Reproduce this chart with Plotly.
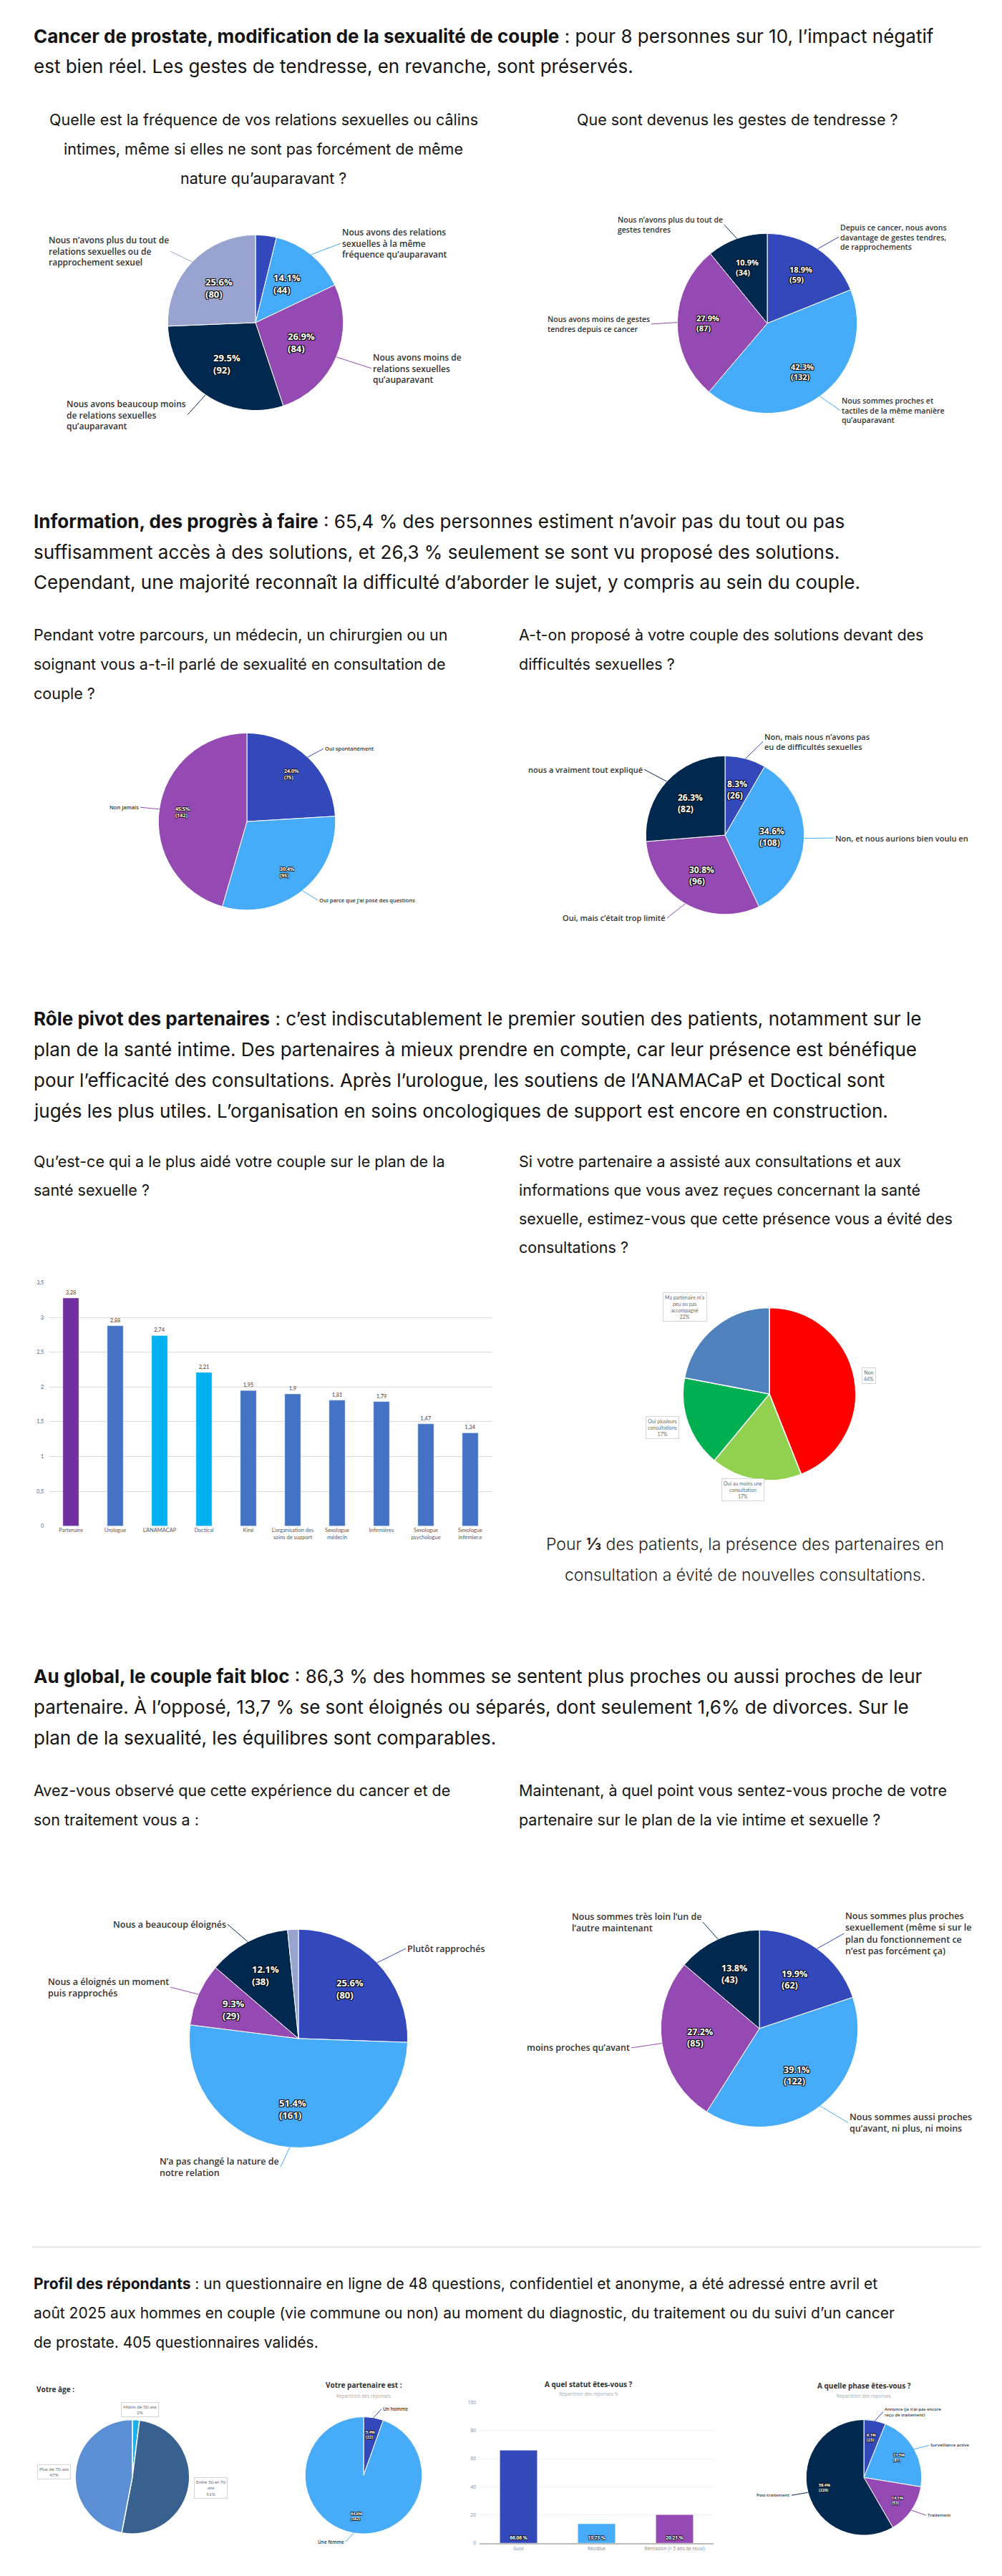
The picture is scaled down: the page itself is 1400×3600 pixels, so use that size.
import math
import plotly.graph_objects as go

# ====================== DATA ======================
# --- Section 1
head1 = ["<b>Cancer de prostate, modification de la sexualité de couple</b> : pour 8 personnes sur 10, l’impact négatif",
         "est bien réel. Les gestes de tendresse, en revanche, sont préservés."]
q1 = ["Quelle est la fréquence de vos relations sexuelles ou câlins",
      "intimes, même si elles ne sont pas forcément de même",
      "nature qu’auparavant ?"]
q2 = ["Que sont devenus les gestes de tendresse ?"]
freq_values = [12, 44, 84, 92, 80]
freq_labels = ["",
               "Nous avons des relations<br>sexuelles à la même<br>fréquence qu’auparavant",
               "Nous avons moins de<br>relations sexuelles<br>qu’auparavant",
               "Nous avons beaucoup moins<br>de relations sexuelles<br>qu’auparavant",
               "Nous n’avons plus du tout de<br>relations sexuelles ou de<br>rapprochement sexuel"]
tend_values = [59, 132, 87, 34]
tend_labels = ["Depuis ce cancer, nous avons<br>davantage de gestes tendres,<br>de rapprochements",
               "Nous sommes proches et<br>tactiles de la même manière<br>qu’auparavant",
               "Nous avons moins de gestes<br>tendres depuis ce cancer",
               "Nous n’avons plus du tout de<br>gestes tendres"]

# --- Section 2
head2 = ["<b>Information, des progrès à faire</b> : 65,4 % des personnes estiment n’avoir pas du tout ou pas",
         "suffisamment accès à des solutions, et 26,3 % seulement se sont vu proposé des solutions.",
         "Cependant, une majorité reconnaît la difficulté d’aborder le sujet, y compris au sein du couple."]
q3 = ["Pendant votre parcours, un médecin, un chirurgien ou un",
      "soignant vous a-t-il parlé de sexualité en consultation de",
      "couple ?"]
q4 = ["A-t-on proposé à votre couple des solutions devant des",
      "difficultés sexuelles ?"]
talk_values = [75, 95, 142]
talk_labels = ["Oui spontanément", "Oui parce que j’ai posé des questions", "Non jamais"]
sol_values = [26, 108, 96, 82]
sol_labels = ["Non, mais nous n’avons pas<br>eu de difficultés sexuelles",
              "Non, et nous aurions bien voulu en",
              "Oui, mais c’était trop limité",
              "nous a vraiment tout expliqué"]

# --- Section 3
head3 = ["<b>Rôle pivot des partenaires</b> : c’est indiscutablement le premier soutien des patients, notamment sur le",
         "plan de la santé intime. Des partenaires à mieux prendre en compte, car leur présence est bénéfique",
         "pour l’efficacité des consultations. Après l’urologue, les soutiens de l’ANAMACaP et Doctical sont",
         "jugés les plus utiles. L’organisation en soins oncologiques de support est encore en construction."]
q5 = ["Qu’est-ce qui a le plus aidé votre couple sur le plan de la", "santé sexuelle ?"]
q6 = ["Si votre partenaire a assisté aux consultations et aux",
      "informations que vous avez reçues concernant la santé",
      "sexuelle, estimez-vous que cette présence vous a évité des",
      "consultations ?"]
help_categories = ["Partenaire", "Urologue", "L’ANAMACAP", "Doctical", "Kiné",
                   "L’organisation des<br>soins de support", "Sexologue<br>médecin", "Infirmières",
                   "Sexologue<br>psychologue", "Sexologue<br>infirmier.e"]
help_values = [3.28, 2.88, 2.74, 2.21, 1.95, 1.9, 1.81, 1.79, 1.47, 1.34]
help_colors = ["#7030A0", "#4472C4", "#00B0F0", "#00B0F0", "#4472C4",
               "#4472C4", "#4472C4", "#4472C4", "#4472C4", "#4472C4"]
help_tickvals = [0, 0.5, 1, 1.5, 2, 2.5, 3, 3.5]
help_ticktext = ["0", "0,5", "1", "1,5", "2", "2,5", "3", "3,5"]
avoid_labels = ["Non", "Oui au moins une<br>consultation", "Oui plusieurs<br>consultations",
                "Ma partenaire m’a<br>peu ou pas<br>accompagné"]
avoid_values = [44, 17, 17, 22]
caption3 = ["Pour <b>⅓</b> des patients, la présence des partenaires en",
            "consultation a évité de nouvelles consultations."]

# --- Section 4
head4 = ["<b>Au global, le couple fait bloc</b> : 86,3 % des hommes se sentent plus proches ou aussi proches de leur",
         "partenaire. À l’opposé, 13,7 % se sont éloignés ou séparés, dont seulement 1,6% de divorces. Sur le",
         "plan de la sexualité, les équilibres sont comparables."]
q7 = ["Avez-vous observé que cette expérience du cancer et de", "son traitement vous a :"]
q8 = ["Maintenant, à quel point vous sentez-vous proche de votre",
      "partenaire sur le plan de la vie intime et sexuelle ?"]
exp_values = [80, 161, 29, 38, 5]
exp_labels = ["Plutôt rapprochés", "N’a pas changé la nature de<br>notre relation",
              "Nous a éloignés un moment<br>puis rapprochés", "Nous a beaucoup éloignés", ""]
close_values = [62, 122, 85, 43]
close_labels = ["Nous sommes plus proches<br>sexuellement (même si sur le<br>plan du fonctionnement ce<br>n’est pas forcément ça)",
                "Nous sommes aussi proches<br>qu’avant, ni plus, ni moins",
                "moins proches qu’avant",
                "Nous sommes très loin l’un de<br>l’autre maintenant"]

# --- Section 5
head5 = ["<b>Profil des répondants</b> : un questionnaire en ligne de 48 questions, confidentiel et anonyme, a été adressé entre avril et",
         "août 2025 aux hommes en couple (vie commune ou non) au moment du diagnostic, du traitement ou du suivi d’un cancer",
         "de prostate. 405 questionnaires validés."]
age_labels = ["Moins de 50 ans", "Entre 50 et 70<br>ans", "Plus de 70 ans"]
age_values = [2, 51, 47]
partner_labels = ["Un homme", "Une femme"]
partner_values = [22, 382]
status_categories = ["Suivi", "Récidive", "Rémission (> 5 ans de recul)"]
status_values = [66.06, 13.73, 20.21]
phase_labels = ["Annonce (je n’ai pas encore<br>reçu de traitement)", "Surveillance active",
                "Traitement", "Post-traitement"]
phase_values = [23, 81, 53, 220]

# ====================== STYLE / LAYOUT ======================
W, H, OFF = 1384, 3584, 8
def X(px): return (px - OFF) / W
def Y(py): return 1 - (py - OFF) / H

MAIN = "Inter, Noto Sans, sans-serif"
LAB = "Open Sans, Noto Sans, sans-serif"
XL = "Lato, Liberation Sans, sans-serif"
HALO = "-1px -1px 0 #111, 1px -1px 0 #111, -1px 1px 0 #111, 1px 1px 0 #111, 0 0 2px #111"
HALO_S = "-0.6px -0.6px 0 #111, 0.6px -0.6px 0 #111, -0.6px 0.6px 0 #111, 0.6px 0.6px 0 #111"
HEAD, QS = 26, 21.5

ROYAL, LIGHT, PURPLE, NAVY, LAV = "#3348BA", "#46ABF8", "#9449B3", "#01284E", "#98A3CF"

fig = go.Figure()
ann = []
shapes = []

def text_lines(lines, x, y0, dy, size, anchor="left", color="#141414", family=MAIN, weight=None):
    for i, t in enumerate(lines):
        f = dict(family=family, size=size, color=color)
        if weight:
            f["weight"] = weight
        ann.append(dict(text=t, x=X(x), y=Y(y0 + i * dy), xref="paper", yref="paper",
                        xanchor=anchor, yanchor="middle", showarrow=False, font=f,
                        align="center" if anchor == "center" else anchor))

def mids(values):
    tot, cum, out = sum(values), 0, []
    for v in values:
        out.append((cum + v / 2) / tot * 2 * math.pi)
        cum += v
    return out

def add_pie(values, colors, cx, cy, r, lw=1):
    fig.add_trace(go.Pie(values=values, labels=[str(i) for i in range(len(values))],
                         sort=False, direction="clockwise", rotation=0,
                         marker=dict(colors=colors, line=dict(color="white", width=lw)),
                         textinfo="none", hoverinfo="skip", showlegend=False,
                         domain=dict(x=[X(cx - r), X(cx + r)], y=[Y(cy + r), Y(cy - r)])))

def inside(values, cx, cy, r, frac, size, show=None, halo=HALO):
    tot = sum(values)
    for i, (v, a) in enumerate(zip(values, mids(values))):
        if show is not None and not show[i]:
            continue
        px, py = cx + frac * r * math.sin(a), cy - frac * r * math.cos(a)
        ann.append(dict(text=f"{v / tot * 100:.1f}%<br>({v})", x=X(px), y=Y(py), xref="paper", yref="paper",
                        showarrow=False, xanchor="center", yanchor="middle", align="left",
                        font=dict(family=LAB, size=size, color="white", weight=700, shadow=halo)))

def outside(values, colors, cx, cy, r, labels, pos, size, color="#333333"):
    for v, a, col, lab, p in zip(values, mids(values), colors, labels, pos):
        if not lab or p is None:
            continue
        anchor, lx, ly = p
        ex, ey = cx + r * math.sin(a), cy - r * math.cos(a)
        ann.append(dict(text=lab, x=X(ex), y=Y(ey), xref="paper", yref="paper",
                        showarrow=True, arrowhead=0, arrowwidth=1, arrowcolor=col, standoff=0,
                        ax=lx - ex, ay=ly - ey, axref="pixel", ayref="pixel",
                        xanchor=anchor, yanchor="middle", align="left",
                        font=dict(family=LAB, size=size, color=color, weight=600)))

def boxes(values, labels, pos, size):
    for v, lab, (bx, by) in zip(values, labels, pos):
        ann.append(dict(text=f"{lab}<br>{v}%", x=X(bx), y=Y(by), xref="paper", yref="paper",
                        showarrow=False, xanchor="center", yanchor="middle", align="center",
                        bgcolor="white", bordercolor="#D4D4D4", borderwidth=1, borderpad=2,
                        font=dict(family=XL, size=size, color="#6b6b6b")))

# ---------------- Section 1 ----------------
text_lines(head1, 45, 46, 42, HEAD)
text_lines(q1, 368, 162, 41.5, QS, anchor="center")
text_lines(q2, 804, 162, 41, QS)

c = (357, 447, 123)
add_pie(freq_values, [ROYAL, LIGHT, PURPLE, NAVY, LAV], *c)
inside(freq_values, *c, 0.57, 13, show=[0, 1, 1, 1, 1])
outside(freq_values, [ROYAL, LIGHT, PURPLE, NAVY, LAV], *c, freq_labels,
        [None, ("left", 476, 336), ("left", 519, 511), ("right", 262, 576), ("right", 238, 347)], 12)

c = (1072, 448, 126)
add_pie(tend_values, [ROYAL, LIGHT, PURPLE, NAVY], *c)
inside(tend_values, *c, 0.66, 11)
outside(tend_values, [ROYAL, LIGHT, PURPLE, NAVY], *c, tend_labels,
        [("left", 1172, 327), ("left", 1174, 570), ("right", 910, 449), ("right", 1012, 310)], 10.5)

# ---------------- Section 2 ----------------
text_lines(head2, 45, 725, 43, HEAD)
text_lines(q3, 45, 884, 41, QS)
text_lines(q4, 723, 884, 41, QS)

c = (345, 1146, 124)
add_pie(talk_values, [ROYAL, LIGHT, PURPLE], *c)
inside(talk_values, *c, 0.73, 7, halo=HALO_S)
outside(talk_values, [ROYAL, LIGHT, PURPLE], *c, talk_labels,
        [("left", 452, 1044), ("left", 444, 1256), ("right", 196, 1126)], 7.5)

c = (1013, 1165, 111)
add_pie(sol_values, [ROYAL, LIGHT, PURPLE, NAVY], *c)
inside(sol_values, *c, 0.59, 12)
outside(sol_values, [ROYAL, LIGHT, PURPLE, NAVY], *c, sol_labels,
        [("left", 1066, 1034), ("left", 1165, 1169), ("right", 932, 1281), ("right", 900, 1073)], 11)

# ---------------- Section 3 ----------------
text_lines(head3, 45, 1422, 43, HEAD)
text_lines(q5, 45, 1622, 40, QS)
text_lines(q6, 723, 1622, 40, QS)

fig.add_trace(go.Bar(x=help_categories, y=help_values, marker=dict(color=help_colors),
                     width=0.36, text=[str(v).replace(".", ",") for v in help_values],
                     textposition="outside", cliponaxis=False,
                     textfont=dict(family=XL, size=7.5, color="#404040"),
                     hoverinfo="skip", showlegend=False, xaxis="x", yaxis="y"))

c = (1075, 1948, 121)
avoid_colors = ["#FF0000", "#92D050", "#00B050", "#4F81BD"]
add_pie(avoid_values, avoid_colors, *c, lw=1.5)
boxes(avoid_values, avoid_labels, [(1214, 1922), (1038, 2082), (925, 1995), (957, 1826)], 7)
text_lines(caption3, 1041, 2158, 44, 23, anchor="center", color="#1e1e1e", weight=300)

# ---------------- Section 4 ----------------
text_lines(head4, 45, 2343, 43.5, HEAD)
text_lines(q7, 45, 2503, 41, QS)
text_lines(q8, 723, 2503, 41, QS)

c = (417, 2851, 153)
cols = [ROYAL, LIGHT, PURPLE, NAVY, LAV]
add_pie(exp_values, cols, *c)
inside(exp_values, *c, 0.65, 13, show=[1, 1, 1, 1, 0])
outside(exp_values, cols, *c, exp_labels,
        [("left", 567, 2725), ("right", 392, 3031), ("right", 238, 2779), ("right", 318, 2691), None], 12.5)

c = (1061, 2837, 138)
cols = [ROYAL, LIGHT, PURPLE, NAVY]
add_pie(close_values, cols, *c)
inside(close_values, *c, 0.61, 12.5)
outside(close_values, cols, *c, close_labels,
        [("left", 1179, 2704), ("left", 1185, 2969), ("right", 882, 2864), ("right", 982, 2688)], 12.5)

# ---------------- Section 5 ----------------
shapes.append(dict(type="line", xref="paper", yref="paper", x0=X(45), x1=X(1370), y0=Y(3143), y1=Y(3143),
                   line=dict(color="#E2E2E2", width=2)))
text_lines(head5, 45, 3195, 41, 21)

# age
text_lines(["Votre âge :"], 49, 3342, 0, 10, color="#333", family=LAB, weight=700)
c = (185, 3465, 80)
add_pie(age_values, ["#1FB0E6", "#38618F", "#5A8FD5"], *c, lw=1.5)
boxes(age_values, age_labels, [(196, 3371), (294, 3481), (75, 3458)], 6.5)

# partner
text_lines(["Votre partenaire est :"], 508, 3336, 0, 10, anchor="center", color="#333", family=LAB, weight=700)
text_lines(["Répartition des réponses"], 508, 3352, 0, 6.5, anchor="center", color="#aaaaaa", family=LAB)
c = (508, 3463, 82)
add_pie(partner_values, [ROYAL, LIGHT], *c)
inside(partner_values, *c, 0.71, 5.5, halo=HALO_S)
outside(partner_values, [ROYAL, LIGHT], *c, partner_labels,
        [("left", 533, 3370), ("right", 483, 3556)], 6.5)

# status bars
text_lines(["A quel statut êtes-vous ?"], 823, 3335, 0, 10, anchor="center", color="#333", family=LAB, weight=700)
text_lines(["Répartition des réponses %"], 823, 3349, 0, 6.5, anchor="center", color="#aaaaaa", family=LAB)
fig.add_trace(go.Bar(x=status_categories, y=status_values, marker=dict(color=[ROYAL, LIGHT, PURPLE]),
                     width=0.48, text=[f"{v:.2f} %" for v in status_values],
                     textposition="inside", insidetextanchor="start", textangle=0,
                     textfont=dict(family=LAB, size=6.5, color="white", weight=700, shadow=HALO_S),
                     hoverinfo="skip", showlegend=False, xaxis="x2", yaxis="y2"))

# phase
text_lines(["A quelle phase êtes-vous ?"], 1207, 3337, 0, 10, anchor="center", color="#333", family=LAB, weight=700)
text_lines(["Répartition des réponses"], 1207, 3352, 0, 6.5, anchor="center", color="#aaaaaa", family=LAB)
c = (1207, 3466, 81)
cols = [ROYAL, LIGHT, PURPLE, NAVY]
add_pie(phase_values, cols, *c)
inside(phase_values, *c, 0.7, 5.5, halo=HALO_S)
outside(phase_values, cols, *c, phase_labels,
        [("left", 1234, 3374), ("left", 1298, 3421), ("left", 1294, 3519), ("right", 1106, 3491)], 6)

# ====================== AXES ======================
fig.update_layout(
    width=W, height=H, margin=dict(l=0, r=0, t=0, b=0),
    paper_bgcolor="white", plot_bgcolor="white", showlegend=False,
    annotations=ann, shapes=shapes,
    xaxis=dict(domain=[X(68), X(688)], type="category", showgrid=False, zeroline=False,
               showline=False, ticks="", tickfont=dict(family=XL, size=7.5, color="#595959"),
               fixedrange=True),
    yaxis=dict(domain=[Y(2133), Y(1792)], range=[0, 3.5], tickvals=help_tickvals, ticktext=help_ticktext,
               showgrid=True, gridcolor="#DCDCDC", gridwidth=1, zeroline=False, showline=False,
               tickfont=dict(family=XL, size=7, color="#595959"), ticklabelstandoff=6, fixedrange=True),
    xaxis2=dict(domain=[X(670), X(997)], anchor="y2", type="category", showgrid=False, zeroline=False,
                showline=True, linecolor="#BBBBBB", linewidth=2, ticks="",
                tickfont=dict(family=LAB, size=6.5, color="#888888"), fixedrange=True),
    yaxis2=dict(domain=[Y(3558), Y(3361)], anchor="x2", range=[0, 100], dtick=20, showgrid=True,
                gridcolor="#F0F0F0", zeroline=False, showline=False,
                tickfont=dict(family=LAB, size=6.5, color="#888888"), ticklabelstandoff=4, fixedrange=True),
)

fig.write_html("out.html")
